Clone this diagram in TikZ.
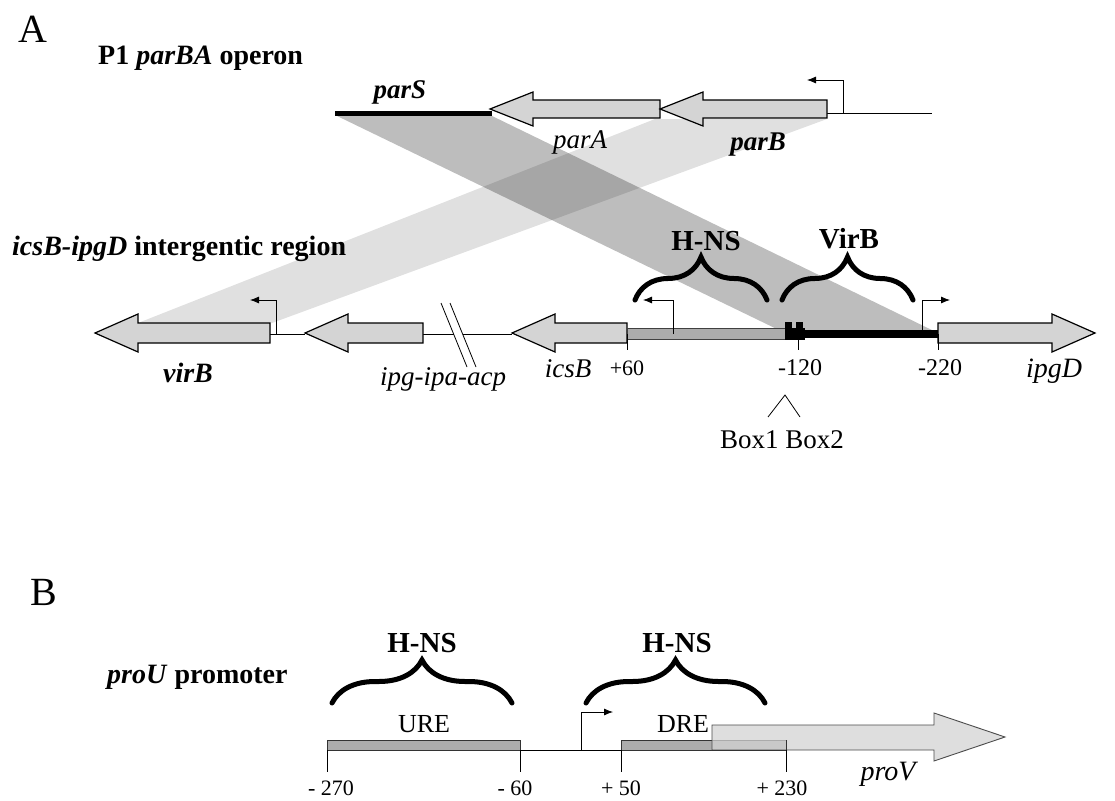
\documentclass[tikz,border=0pt]{standalone}
\usepackage{fontspec}
\setmainfont{Liberation Serif}
\usetikzlibrary{arrows.meta,decorations.pathreplacing}
\definecolor{genefill}{RGB}{212,212,212}
\definecolor{hnsfill}{RGB}{172,172,172}
\newcommand{\myfs}[1]{\fontsize{#1}{#1}\selectfont}
% left-pointing gene: tip x, tail x, centre y, body half height, head half height
\newcommand{\geneleft}[5]{\draw[gene] (#2,#3-#4) -- (#1+43,#3-#4) -- (#1+43,#3-#5) -- (#1,#3) -- (#1+43,#3+#5) -- (#1+43,#3+#4) -- (#2,#3+#4) -- cycle;}
\begin{document}
\begin{tikzpicture}[x=1pt,y=-1pt,
  gene/.style={draw=black,line width=1.2pt,fill=genefill,line join=miter},
  dna/.style={draw=black,line width=0.8pt},
  prom/.style={draw=black,line width=0.8pt,-{Latex[length=9pt,width=7pt]}},
  tick/.style={draw=black,line width=0.8pt},
  brc/.style={decorate,decoration={brace,amplitude=43pt},line width=5pt,line cap=round},
  lbl/.style={inner sep=0pt,anchor=base},
  bandd/.style={fill=black,fill opacity=0.26},
  bandl/.style={fill=black,fill opacity=0.12}]
\useasboundingbox (0,0) rectangle (1115,800);
\fill[white] (0,0) rectangle (1115,800);

% ---------------- Panel A ----------------
\node[lbl,font=\myfs{40}] (A) at (33,43) {A};
\node[lbl,anchor=base west,font=\myfs{28}\bfseries] (t1) at (98,64) {P1 \textit{parBA} operon};
\node[lbl,anchor=base west,font=\myfs{28}\bfseries] (t2) at (12,255) {\textit{icsB-ipgD} intergentic region};

% homology bands
\fill[bandd] (335,115) -- (490,115) -- (938,333) -- (785,333) -- cycle;
\fill[bandl] (655,119) -- (827,119) -- (272,323) -- (138,323) -- cycle;

% top row
\draw[dna] (827,113) -- (932,113);
\draw[line width=5pt] (335,113) -- (492,113);
\geneleft{490}{660}{109}{9}{17}
\geneleft{660}{827}{109}{9}{17}
\draw[prom] (843,113) -- (843,80) -- (807,80);
\node[lbl,font=\myfs{27}\bfseries\itshape] (parS) at (400,98) {parS};
\node[lbl,font=\myfs{27}\itshape] (parA) at (580,148) {parA};
\node[lbl,font=\myfs{27}\bfseries\itshape] (parB) at (758,150) {parB};

% bottom row
\draw[dna] (270,334) -- (305,334);
\draw[dna] (423,334) -- (454,334);
\draw[dna] (463,334) -- (512,334);
\draw[line width=0.8pt] (441,303) -- (467,367);
\draw[line width=0.8pt] (450,303) -- (476,367);
\geneleft{95}{270}{333}{10}{19}
\geneleft{305}{423}{333}{10}{19}
\geneleft{512}{627}{333}{10}{19}
\draw[draw=black!75,line width=0.8pt,fill=hnsfill] (627,328) rectangle (785,339);
\fill[black] (785,330) rectangle (938,338);
\fill[black] (785,328) rectangle (805,340);
\fill[black] (785,322) rectangle (792,330);
\fill[black] (796,322) rectangle (803,330);
\draw[gene] (938,323) -- (1052,323) -- (1052,314) -- (1095,333) -- (1052,352) -- (1052,343) -- (938,343) -- cycle;
\draw[tick] (627,334) -- (627,350);
\draw[tick] (798,334) -- (798,350);
\draw[tick] (938,334) -- (938,350);
\draw[prom] (276,334) -- (276,300) -- (250,300);
\draw[prom] (673,334) -- (673,300) -- (643,300);
\draw[prom] (922,334) -- (922,300) -- (950,300);
\draw[brc] (635,300) -- (767,300);
\draw[brc] (782,300) -- (913,300);
\node[lbl,font=\myfs{29}\bfseries] (hns1) at (706,250) {H-NS};
\node[lbl,font=\myfs{29}\bfseries] (virBp) at (849,248) {VirB};
\node[lbl,font=\myfs{28}\bfseries\itshape] (virB) at (188,382) {virB};
\node[lbl,font=\myfs{27}\itshape] (ipg) at (443,385) {ipg-ipa-acp};
\node[lbl,font=\myfs{27}\itshape] (icsB) at (568,377) {icsB};
\node[lbl,font=\myfs{22}] (p60) at (627,375) {+60};
\node[lbl,font=\myfs{24}] (m120) at (800,375) {-120};
\node[lbl,font=\myfs{24}] (m220) at (940,375) {-220};
\node[lbl,font=\myfs{28}\itshape] (ipgD) at (1054,377) {ipgD};
\draw[line width=0.8pt] (768,417) -- (785,395) -- (800,417);
\node[lbl,font=\myfs{27}] (box) at (782,448) {Box1 Box2};

% ---------------- Panel B ----------------
\node[lbl,font=\myfs{40}] (B) at (44,605) {B};
\node[lbl,anchor=base west,font=\myfs{28}\bfseries] (t3) at (107,683) {\textit{proU} promoter};
\draw[brc] (332,703) -- (512,703);
\draw[brc] (586,703) -- (765,703);
\node[lbl,font=\myfs{29}\bfseries] (hns2) at (422,652) {H-NS};
\node[lbl,font=\myfs{29}\bfseries] (hns3) at (677,652) {H-NS};
\node[lbl,font=\myfs{26}] (ure) at (424,732) {URE};
\node[lbl,font=\myfs{26}] (dre) at (683,732) {DRE};
\draw[dna] (327,750) -- (712,750);
\draw[draw=black!80,line width=0.8pt,fill=hnsfill] (327,740) rectangle (520,750);
\draw[draw=black!80,line width=0.8pt,fill=hnsfill] (621,740) rectangle (786,750);
\draw[draw=black!70,line width=0.9pt,fill=genefill,fill opacity=0.75] (712,725) -- (934,725) -- (934,713) -- (1005,737) -- (934,761) -- (934,750) -- (712,750) -- cycle;
\draw[draw=black!80,line width=0.8pt] (712,750) -- (786,750) -- (786,740);
\draw[prom] (581,750) -- (581,712) -- (613,712);
\draw[tick] (327,750) -- (327,772);
\draw[tick] (520,750) -- (520,772);
\draw[tick] (621,750) -- (621,772);
\draw[tick] (786,750) -- (786,772);
\node[lbl,font=\myfs{22}] (n270) at (331,795) {- 270};
\node[lbl,font=\myfs{22}] (n60) at (515,795) {- 60};
\node[lbl,font=\myfs{22}] (n50) at (621,795) {+ 50};
\node[lbl,font=\myfs{22}] (n230) at (782,795) {+ 230};
\node[lbl,font=\myfs{28}\itshape] (proV) at (888,780) {proV};
\end{tikzpicture}
\end{document}
